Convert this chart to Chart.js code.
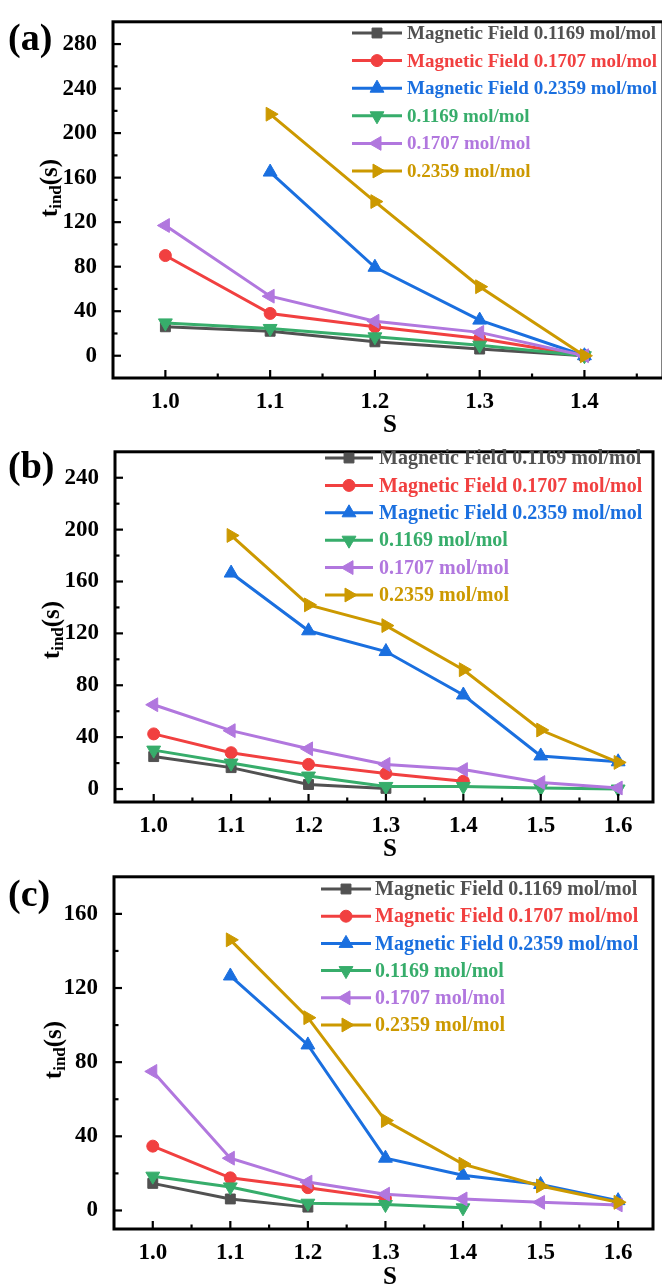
<!DOCTYPE html>
<html>
<head>
<meta charset="utf-8">
<script src="https://cdn.jsdelivr.net/npm/chart.js@4.4.0/dist/chart.umd.min.js"></script>
<style>
  body { margin: 0; background: #fff; }
  #wrap { position: relative; width: 662px; height: 1288px; overflow: hidden; background: #fff; }
  canvas { position: absolute; left: 0; }
</style>
</head>
<body>
<div id="wrap">
  <canvas id="chartA" width="672" height="445" style="top:0px"></canvas>
  <canvas id="chartB" width="662" height="440" style="top:430px"></canvas>
  <canvas id="chartC" width="662" height="433" style="top:855px"></canvas>
</div>
<script>
// series names (same in all three panels)
const seriesNames = ['Magnetic Field 0.1169 mol/mol', 'Magnetic Field 0.1707 mol/mol', 'Magnetic Field 0.2359 mol/mol',
  '0.1169 mol/mol', '0.1707 mol/mol', '0.2359 mol/mol'];

// panel (a)
const sA = [1.0, 1.1, 1.2, 1.3, 1.4];
const aMF1169 = [26, 22, 12.5, 6, 0];
const aMF1707 = [90, 38, 26, 15.5, 0];
const aMF2359 = [null, 165, 79.5, 32, 0];
const a1169 = [29.5, 24.5, 17, 9.5, 0];
const a1707 = [117, 53.5, 31, 21, 0];
const a2359 = [null, 217, 138.5, 62, 0];
const aXTicks = [1.0, 1.1, 1.2, 1.3, 1.4];
const aYTicks = [0, 40, 80, 120, 160, 200, 240, 280];

// panel (b)
const sB = [1.0, 1.1, 1.2, 1.3, 1.4, 1.5, 1.6];
const bMF1169 = [25, 16.5, 3.5, 0.5, null, null, null];
const bMF1707 = [42.5, 28, 19, 12, 6, null, null];
const bMF2359 = [null, 166.5, 122, 106, 72.5, 25.5, 21];
const b1169 = [30, 20, 10, 2, 2, 0.8, 0];
const b1707 = [65, 45, 31, 19, 15, 5, 0.8];
const b2359 = [null, 195.5, 142, 126, 92, 45.5, 20.5];
const bXTicks = [1.0, 1.1, 1.2, 1.3, 1.4, 1.5, 1.6];
const bYTicks = [0, 40, 80, 120, 160, 200, 240];

// panel (c)
const sC = [1.0, 1.1, 1.2, 1.3, 1.4, 1.5, 1.6];
const cMF1169 = [14.6, 6.2, 1.8, null, null, null, null];
const cMF1707 = [34.7, 17.6, 12.3, 6.5, null, null, null];
const cMF2359 = [null, 126.5, 89.3, 28.2, 19, 14, 5.3];
const c1169 = [18.5, 12.7, 3.9, 3.2, 1.4, null, null];
const c1707 = [75, 28.2, 15.3, 8.8, 6.2, 4.4, 3];
const c2359 = [null, 146, 104, 48.5, 25, 13.2, 4.4];
const cXTicks = [1.0, 1.1, 1.2, 1.3, 1.4, 1.5, 1.6];
const cYTicks = [0, 40, 80, 120, 160];

// styles
const colors = ['#515151', '#F14040', '#1A6FDF', '#37AD6B', '#B177DE', '#CC9900'];
const markerStyle = ['rect', 'circle', 'triangle', 'triangle', 'triangle', 'triangle'];
const markerRot = [0, 0, 0, 180, 270, 90];
const markerSize = [7, 6, 8, 8, 8, 8];
const FONT = '"Liberation Serif", "Times New Roman", serif';

function marker(ctx, i, x, y) {
  ctx.fillStyle = colors[i];
  ctx.strokeStyle = colors[i];
  ctx.lineWidth = 1;
  Chart.helpers.drawPoint(ctx, { pointStyle: markerStyle[i], rotation: markerRot[i], radius: markerSize[i], borderWidth: 1 }, x, y);
}

function decorations(p) {
  return {
    id: 'decorations',
    afterDraw(chart) {
      const { ctx, chartArea: a, scales: { x, y } } = chart;
      ctx.save();
      // frame
      ctx.strokeStyle = '#000';
      ctx.lineWidth = 3;
      ctx.strokeRect(a.left, a.top, a.right - a.left, a.bottom - a.top);
      // inward ticks, major + minor
      ctx.lineWidth = 2.2;
      const xs = p.xTicks[1] - p.xTicks[0];
      const ys = p.yTicks[1] - p.yTicks[0];
      const xt = [];
      p.xTicks.forEach(v => { xt.push([v, 8]); xt.push([v + xs / 2, 4.5]); });
      xt.push([p.xTicks[0] - xs / 2, 4.5]);
      xt.forEach(([v, len]) => {
        if (v <= x.min + 1e-6 || v >= x.max - 1e-6) return;
        const px = x.getPixelForValue(v);
        ctx.beginPath(); ctx.moveTo(px, a.bottom); ctx.lineTo(px, a.bottom - len); ctx.stroke();
      });
      const yt = [];
      p.yTicks.forEach(v => { yt.push([v, 8]); yt.push([v + ys / 2, 4.5]); });
      yt.push([p.yTicks[0] - ys / 2, 4.5]);
      yt.forEach(([v, len]) => {
        if (v <= y.min + 1e-6 || v >= y.max - 1e-6) return;
        const py = y.getPixelForValue(v);
        ctx.beginPath(); ctx.moveTo(a.left, py); ctx.lineTo(a.left + len, py); ctx.stroke();
      });
      // legend
      const L = p.legend;
      ctx.textAlign = 'left';
      ctx.textBaseline = 'middle';
      ctx.font = 'bold ' + L.size + 'px ' + FONT;
      seriesNames.forEach((name, i) => {
        const ly = L.y0 + i * L.dy;
        ctx.strokeStyle = colors[i];
        ctx.lineWidth = 3;
        ctx.beginPath(); ctx.moveTo(L.x0, ly); ctx.lineTo(L.x1, ly); ctx.stroke();
        marker(ctx, i, (L.x0 + L.x1) / 2, ly);
        ctx.fillStyle = colors[i];
        ctx.fillText(name, L.tx, ly + 1);
      });
      // panel letter
      ctx.fillStyle = '#000';
      ctx.font = 'bold 38px ' + FONT;
      ctx.fillText(p.letter, 8, p.letterY);
      // x title
      ctx.textAlign = 'center';
      ctx.font = 'bold 25px ' + FONT;
      ctx.fillText('S', 390, p.sY);
      // y title t_ind(s)
      ctx.save();
      ctx.translate(p.yTitle[0], p.yTitle[1]);
      ctx.rotate(-Math.PI / 2);
      ctx.textAlign = 'left';
      const big = 'bold 25px ' + FONT, small = 'bold 17px ' + FONT;
      ctx.font = big; const w1 = ctx.measureText('t').width, w3 = ctx.measureText('(s)').width;
      ctx.font = small; const w2 = ctx.measureText('ind').width;
      let sx = -(w1 + w2 + w3) / 2;
      ctx.font = big; ctx.fillText('t', sx, 0); sx += w1;
      ctx.font = small; ctx.fillText('ind', sx, 6); sx += w2;
      ctx.font = big; ctx.fillText('(s)', sx, 0);
      ctx.restore();
      ctx.restore();
    }
  };
}

function panel(id, p) {
  const canvas = document.getElementById(id);
  const W = canvas.width, H = canvas.height;
  const a = p.area;
  new Chart(canvas, {
    type: 'line',
    data: {
      datasets: p.series.map((vals, i) => ({
        label: seriesNames[i],
        data: p.s.map((s, j) => ({ x: s, y: vals[j] })),
        borderColor: colors[i],
        backgroundColor: colors[i],
        borderWidth: 3,
        pointStyle: markerStyle[i],
        pointRotation: markerRot[i],
        pointRadius: markerSize[i],
        pointBorderWidth: 1,
        tension: 0,
        spanGaps: false,
        order: 5 - i
      }))
    },
    options: {
      responsive: false,
      animation: false,
      layout: { padding: { left: 0, top: a.top, right: W - a.right, bottom: 0 } },
      plugins: { legend: { display: false }, tooltip: { enabled: false } },
      scales: {
        x: {
          type: 'linear', min: p.xMin, max: p.xMax,
          afterBuildTicks: s => { s.ticks = p.xTicks.map(v => ({ value: v })); },
          afterFit: s => { s.height = H - a.bottom; },
          grid: { display: false },
          border: { display: false },
          ticks: { color: '#000', padding: 2, maxRotation: 0, autoSkip: false,
            font: { family: FONT, size: 23, weight: 'bold' }, callback: v => v.toFixed(1) }
        },
        y: {
          min: p.yMin, max: p.yMax,
          afterBuildTicks: s => { s.ticks = p.yTicks.map(v => ({ value: v })); },
          afterFit: s => { s.width = a.left; },
          grid: { display: false },
          border: { display: false },
          ticks: { color: '#000', padding: 8, autoSkip: false,
            font: { family: FONT, size: 23, weight: 'bold' } }
        }
      }
    },
    plugins: [decorations(p)]
  });
}

panel('chartA', {
  s: sA, series: [aMF1169, aMF1707, aMF2359, a1169, a1707, a2359],
  xTicks: aXTicks, yTicks: aYTicks, xMin: 0.95, xMax: 1.475, yMin: -20, yMax: 300,
  area: { left: 113, top: 15, right: 666, bottom: 378 },
  legend: { x0: 352, x1: 402, tx: 407, y0: 33, dy: 27.6, size: 19 },
  letter: '(a)', letterY: 40, sY: 426, yTitle: [51, 188]
});
panel('chartB', {
  s: sB, series: [bMF1169, bMF1707, bMF2359, b1169, b1707, b2359],
  xTicks: bXTicks, yTicks: bYTicks, xMin: 0.95, xMax: 1.645, yMin: -10, yMax: 260,
  area: { left: 115, top: 12, right: 659, bottom: 372 },
  legend: { x0: 325, x1: 373, tx: 379, y0: 28, dy: 27.4, size: 20 },
  letter: '(b)', letterY: 38, sY: 420, yTitle: [53, 200]
});
panel('chartC', {
  s: sC, series: [cMF1169, cMF1707, cMF2359, c1169, c1707, c2359],
  xTicks: cXTicks, yTicks: cYTicks, xMin: 0.95, xMax: 1.645, yMin: -10, yMax: 180,
  area: { left: 114, top: 15, right: 659, bottom: 374 },
  legend: { x0: 321, x1: 371, tx: 375, y0: 34, dy: 27.2, size: 20 },
  letter: '(c)', letterY: 41, sY: 423, yTitle: [55, 195]
});
</script>
</body>
</html>
